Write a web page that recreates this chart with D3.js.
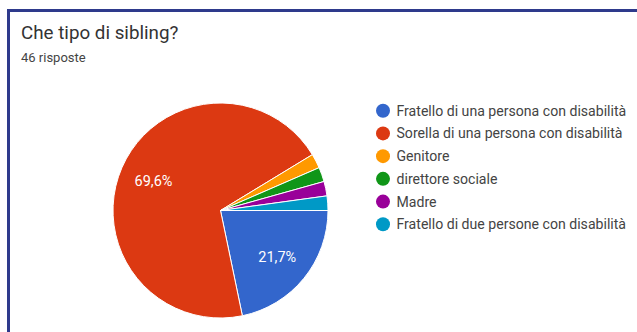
<!DOCTYPE html>
<html><head><meta charset="utf-8">
<script src="https://cdn.jsdelivr.net/npm/d3@7"></script>
<style>
html,body{margin:0;padding:0;background:#fff;}
svg{display:block;}
</style></head>
<body>
<svg id="chart" width="637" height="332"></svg>
<script>
const title = "Che tipo di sibling?";
const subtitle = "46 risposte";
const categories = [
  "Fratello di una persona con disabilità",
  "Sorella di una persona con disabilità",
  "Genitore",
  "direttore sociale",
  "Madre",
  "Fratello di due persone con disabilità"
];
const counts = [10, 32, 1, 1, 1, 1];
const colors = ["#3366cc", "#dc3912", "#ff9900", "#109618", "#990099", "#0099c6"];

const svg = d3.select("#chart");
const font = "Roboto, 'Noto Sans', Arial, sans-serif";

// frame
svg.append("path")
  .attr("d", "M8.5,332 L8.5,10.5 L637,10.5")
  .attr("fill", "none").attr("stroke", "#2e3a8c").attr("stroke-width", 3);

svg.append("text").attr("x", 21).attr("y", 38.5)
  .attr("font-family", font).attr("font-size", 18.8).attr("fill", "#333")
  .text(title);
svg.append("text").attr("x", 21).attr("y", 61.5)
  .attr("font-family", font).attr("font-size", 13).attr("fill", "#444")
  .text(subtitle);

const total = d3.sum(counts);
const data = categories.map((c, i) => ({cat: c, value: counts[i], color: colors[i]}));
const pie = d3.pie().value(d => d.value).sort(null)
  .startAngle(Math.PI / 2).endAngle(Math.PI / 2 + 2 * Math.PI);
const arcs = pie(data);
const r = 107.5;
const cx = 220.5, cy = 210.5;
const arc = d3.arc().innerRadius(0).outerRadius(r);
const g = svg.append("g").attr("transform", `translate(${cx},${cy})`);
g.selectAll("path").data(arcs).join("path")
  .attr("d", arc).attr("fill", d => d.data.color)
  .attr("stroke", "#fff").attr("stroke-width", 1);

const labelArc = d3.arc().innerRadius(r * 0.68).outerRadius(r * 0.68);
const fmt = v => (Math.round(v / total * 1000) / 10).toFixed(1).replace(".", ",") + "%";
g.selectAll("text.pct").data(arcs.filter(d => d.value / total > 0.05)).join("text")
  .attr("class", "pct")
  .attr("transform", d => `translate(${labelArc.centroid(d)})`)
  .attr("text-anchor", "middle").attr("dy", "0.35em")
  .attr("font-family", font).attr("font-size", 14.5).attr("fill", "#fff")
  .text(d => fmt(d.value));

// legend
const ly = d3.scalePoint().domain(categories).range([110.7, 224.3]);
const lg = svg.append("g");
const rows = lg.selectAll("g").data(data).join("g")
  .attr("transform", d => `translate(383,${ly(d.cat)})`);
rows.append("circle").attr("r", 7).attr("fill", d => d.color);
rows.append("text").attr("x", 13.5).attr("dy", "0.35em")
  .attr("font-family", font).attr("font-size", 14.1).attr("fill", "#444")
  .text(d => d.cat);
</script>
</body></html>
